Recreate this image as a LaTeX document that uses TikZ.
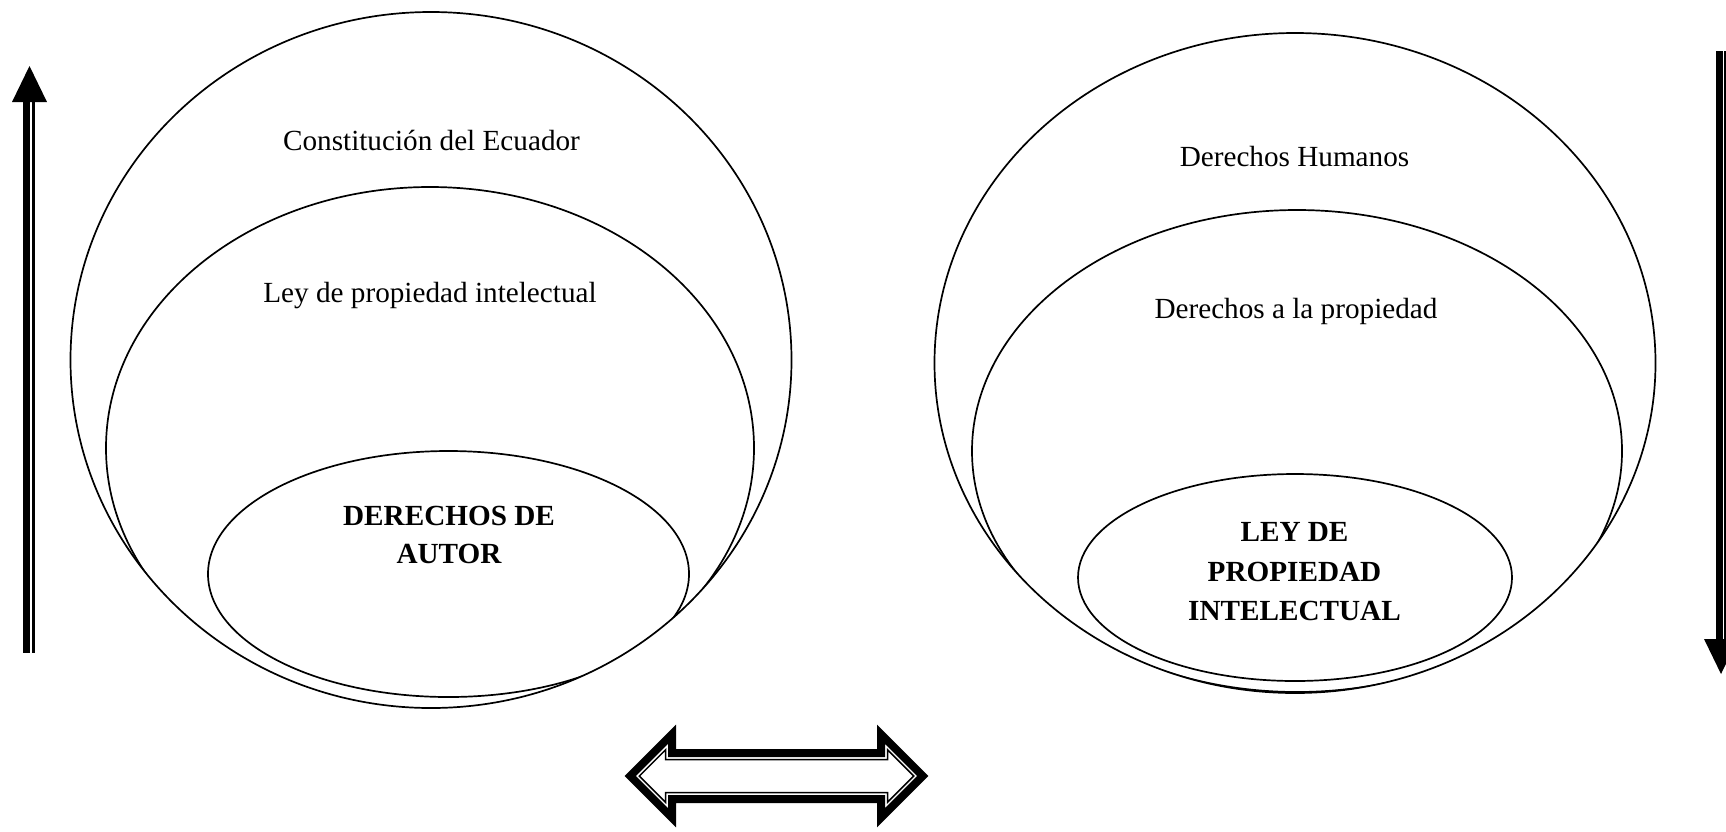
\documentclass[tikz,border=0pt]{standalone}
\usepackage{fontspec}
\setmainfont{Liberation Serif}
\begin{document}
\begin{tikzpicture}[x=1pt,y=-1pt,
  ring/.style={draw=black,line width=1.7pt},
  lbl/.style={inner sep=0pt,anchor=base,font=\fontsize{29.2}{36}\selectfont},
  keylbl/.style={inner sep=0pt,anchor=center,align=center},
  barfill/.style={fill=black,draw=none}]
\clip (0,0) rectangle (1726,831);
\fill[white] (0,0) rectangle (1726,831);

% ---------- left group ----------
\draw[ring] (431,360) ellipse [x radius=360.5pt, y radius=348pt];
\begin{scope}
  \clip (431,360) ellipse [x radius=360.5pt, y radius=348pt];
  \draw[ring] (430,448) ellipse [x radius=324pt, y radius=261pt];
  \draw[ring] (448.5,574) ellipse [x radius=240.5pt, y radius=123pt];
\end{scope}
\node[lbl] (const) at (431.5,150) {Constitución del Ecuador};
\node[lbl] (leyp) at (430,302.5) {Ley de propiedad intelectual};
\node[keylbl,font=\fontsize{29.2}{38}\selectfont\bfseries] (autor) at (449,536.4)
  {\strut DERECHOS DE\\\strut AUTOR};

% ---------- right group ----------
\draw[ring] (1295,363) ellipse [x radius=360.5pt, y radius=330pt];
\begin{scope}
  \clip (1295,363) ellipse [x radius=360.5pt, y radius=330pt];
  \draw[ring] (1297,451) ellipse [x radius=325pt, y radius=241pt];
  \draw[ring] (1295,577.5) ellipse [x radius=217pt, y radius=103.5pt];
\end{scope}
\node[lbl] (dh) at (1294.5,166) {Derechos Humanos};
\node[lbl] (dp) at (1296,318.3) {Derechos a la propiedad};
\node[keylbl,font=\fontsize{29.2}{39.5}\selectfont\bfseries] (lpi) at (1294.5,573.1)
  {\strut LEY DE\\\strut PROPIEDAD\\\strut INTELECTUAL};

% ---------- left upward arrow ----------
\coordinate (ltip) at (29.5,66);
\fill[barfill] (23.3,102) rectangle (30,653);
\fill[barfill] (32.3,102) rectangle (35,653);
\fill[barfill] (12,102) -- (ltip) -- (47,102) -- cycle;

% ---------- right downward arrow ----------
\coordinate (rtip) at (1721,674);
\fill[barfill] (1715.5,51) rectangle (1722.7,639);
\fill[barfill] (1724.3,51) rectangle (1727,639);
\fill[barfill] (1704,639) -- (rtip) -- (1738,639) -- cycle;

% ---------- double-headed outlined arrow ----------
\begin{scope}[shift={(776.5,776)}]
  \draw[line width=8pt,line join=miter,miter limit=10]
    (-146.3,0) -- (-104.5,-41.8) -- (-104.5,-23) -- (104.5,-23) -- (104.5,-41.8)
    -- (146.3,0) -- (104.5,41.8) -- (104.5,23) -- (-104.5,23) -- (-104.5,41.8) -- cycle;
  \draw[line width=1.5pt,line join=miter,miter limit=10]
    (-137.2,0) -- (-111,-26.2) -- (-111,-16.5) -- (111,-16.5) -- (111,-26.2)
    -- (137.2,0) -- (111,26.2) -- (111,16.5) -- (-111,16.5) -- (-111,26.2) -- cycle;
\end{scope}
\end{tikzpicture}
\end{document}
